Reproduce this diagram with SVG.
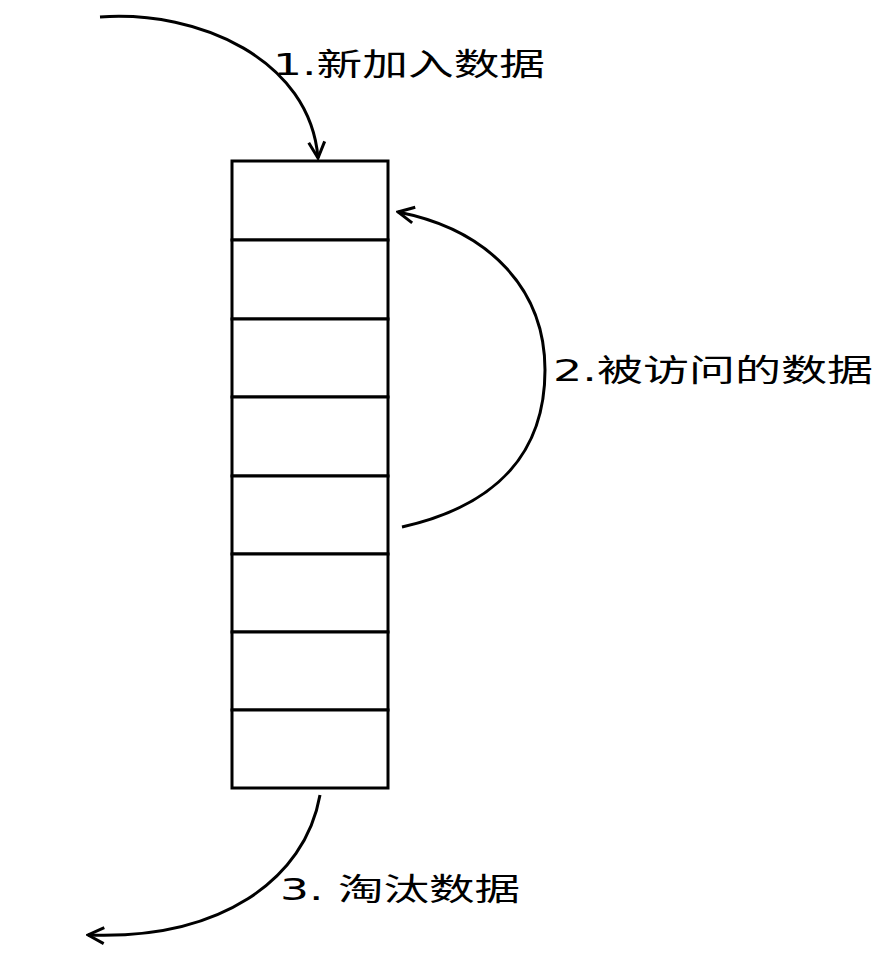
<svg xmlns="http://www.w3.org/2000/svg" width="892" height="977" viewBox="0 0 892 977">
<style>
.c{fill:#fff;stroke:#000;stroke-width:3}
.a{fill:none;stroke:#000;stroke-width:3}
.t{font-family:"DejaVu Sans","Noto Sans CJK SC",sans-serif;font-size:31px;fill:#000}
</style>
<defs><marker id="m" viewBox="0 0 20 20" refX="18" refY="10" markerWidth="20" markerHeight="20" markerUnits="userSpaceOnUse" orient="auto"><path d="M2,2 L18,10 L2,18" fill="none" stroke="#000" stroke-width="3"/></marker></defs>
<g id="stack">
<rect class="c" x="232" y="161" width="156" height="79"/>
<rect class="c" x="232" y="240" width="156" height="79"/>
<rect class="c" x="232" y="319" width="156" height="78"/>
<rect class="c" x="232" y="397" width="156" height="79"/>
<rect class="c" x="232" y="476" width="156" height="78"/>
<rect class="c" x="232" y="554" width="156" height="78"/>
<rect class="c" x="232" y="632" width="156" height="78"/>
<rect class="c" x="232" y="710" width="156" height="78"/>
</g>
<g id="connectors">
<path class="a" marker-end="url(#m)" d="M100,17 C200,10 310,60 318,158"/>
<path class="a" marker-end="url(#m)" d="M402,527 C500,505 545,450 545,370 C545,290 490,230 398,212"/>
<path class="a" marker-end="url(#m)" d="M320,795 C305,880 220,940 88,935"/>
</g>
<g id="labels">
<text class="t" x="273" y="75" textLength="272" lengthAdjust="spacingAndGlyphs">1.新加入数据</text>
<text class="t" x="553" y="381" textLength="320" lengthAdjust="spacingAndGlyphs">2.被访问的数据</text>
<text class="t" x="280" y="900" textLength="240" lengthAdjust="spacingAndGlyphs">3. 淘汰数据</text>
</g>
</svg>
